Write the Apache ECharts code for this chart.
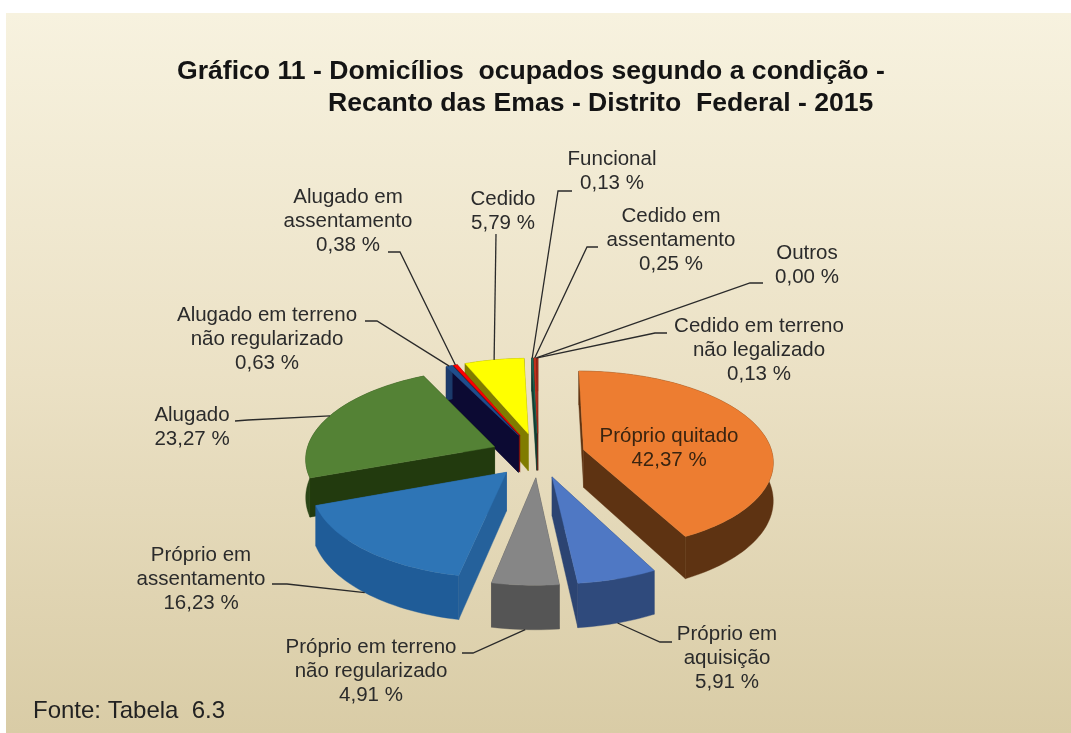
<!DOCTYPE html>
<html>
<head>
<meta charset="utf-8">
<style>
  html, body { margin: 0; padding: 0; background: #fff; }
  #chart { width: 1071px; height: 733px; }
</style>
</head>
<body>
<div id="chart"></div>
<script src="https://cdn.jsdelivr.net/npm/echarts@6/dist/echarts.min.js"></script>
<script>
  // dados do grafico, no sentido horario a partir do topo
  const categories = [
    'Próprio quitado', 'Próprio em\naquisição', 'Próprio em terreno\nnão regularizado',
    'Próprio em\nassentamento', 'Alugado', 'Alugado em terreno\nnão regularizado',
    'Alugado em\nassentamento', 'Cedido', 'Funcional', 'Cedido em\nassentamento',
    'Outros', 'Cedido em terreno\nnão legalizado'
  ]
  const percent = [42.37, 5.91, 4.91, 16.23, 23.27, 0.63, 0.38, 5.79, 0.13, 0.25, 0.00, 0.13]

  const titleLines = ['Gráfico 11 - Domicílios  ocupados segundo a condição -', 'Recanto das Emas - Distrito  Federal - 2015']
  const sourceText = 'Fonte: Tabela  6.3'

  const topColors = ['#ED7D31', '#4F78C4', '#868686', '#2E75B6', '#548235', '#1F4E8C', '#FF0000', '#FFFF00', '#1F6B57', '#C0301C', '#888888', '#A52A1A']
  const wallColors = ['#5E3312', '#2C4472', '#4F4F4F', '#25619B', '#223A0E', '#0C0A33', '#7A1010', '#807C00', '#123F33', '#6E1A10', '#555555', '#5E1A10']
  const rimColors = ['#5E3312', '#2F4A7C', '#555555', '#1F5C98', '#2A4516', '#1B3A6B', '#7A1010', '#807C00', '#123F33', '#6E1A10', '#555555', '#5E1A10']

  // centro do texto de cada rotulo
  const labelAt = [
    [669, 448], [727, 658], [371, 671], [201, 579], [192, 427], [267, 339],
    [348, 221], [503, 211], [612, 171], [671, 240], [807, 265], [759, 350]
  ]
  // inicio da linha guia e o cotovelo
  const leaderFrom = [
    null, [[672, 642], [660, 642]], [[462, 653], [473, 653]], [[272, 584], [287, 584]],
    [[235, 421], [248, 420]], [[365, 321], [377, 321]], [[388, 252], [400, 252]],
    [[496, 234]], [[572, 191], [558, 191]], [[598, 247], [587, 247]],
    [[763, 283], [750, 283]], [[667, 333], [655, 333]]
  ]

  // modelo da pizza 3D explodida
  const cx = 538, cy = 455, rx = 189, ry = 89
  const persp = 0.117, depth = 38, explode = 0.25

  const total = percent.reduce((a, b) => a + b, 0)
  function project(u, v, down) {
    const s = 1 / (1 - persp * v)
    return [cx + rx * u * s, cy + (ry * v + (down ? depth : 0)) * s]
  }
  function onDisc(theta, r, mid) {
    return [explode * Math.sin(mid) + r * Math.sin(theta), -explode * Math.cos(mid) - r * Math.cos(theta)]
  }

  let acc = 0
  const angles = percent.map(p => {
    const a0 = acc / total * Math.PI * 2
    acc += p
    const a1 = acc / total * Math.PI * 2
    return { a0, a1, mid: (a0 + a1) / 2 }
  })
  // ordem de pintura: do fundo para a frente
  const order = angles.map((a, i) => ({ i, v: -Math.cos(a.mid) })).sort((a, b) => a.v - b.v)
  const rank = []
  order.forEach((o, n) => { rank[o.i] = n })

  function arcPoints(a0, a1, mid, down) {
    const n = Math.max(1, Math.ceil((a1 - a0) / 0.03))
    const pts = []
    for (let k = 0; k <= n; k++) {
      const d = onDisc(a0 + (a1 - a0) * k / n, 1, mid)
      pts.push(project(d[0], d[1], down))
    }
    return pts
  }

  function renderSlice(params, api) {
    const i = params.dataIndex
    const { a0, a1, mid } = angles[i]
    if (api.value(0) <= 0) return { type: 'group', children: [] }
    const base = rank[i] * 10
    const ap = onDisc(0, 0, mid)
    const apexTop = project(ap[0], ap[1], false)
    const apexDown = project(ap[0], ap[1], true)
    const arcTop = arcPoints(a0, a1, mid, false)
    const arcDown = arcPoints(a0, a1, mid, true)
    const poly = (points, fill, z) => ({
      type: 'polygon', z2: base + z, silent: true,
      shape: { points: points },
      style: { fill: fill, stroke: fill, lineWidth: 0.4 }
    })
    return {
      type: 'group',
      children: [
        poly([apexTop, arcTop[arcTop.length - 1], arcDown[arcDown.length - 1], apexDown], wallColors[i], 1),
        poly([apexTop, arcTop[0], arcDown[0], apexDown], wallColors[i], 1),
        poly(arcTop.concat(arcDown.slice().reverse()), rimColors[i], 2),
        poly([apexTop].concat(arcTop), topColors[i], 3)
      ]
    }
  }

  function renderLabel(params, api) {
    const i = params.dataIndex
    const { mid } = angles[i]
    const children = [{
      type: 'text', z2: 1001, silent: true,
      style: {
        x: labelAt[i][0], y: labelAt[i][1],
        text: categories[i] + '\n' + api.value(0).toFixed(2).replace('.', ',') + ' %',
        fill: i === 0 ? '#3A2410' : '#2B2B2B',
        font: '20.5px "Liberation Sans", Arial, sans-serif',
        lineHeight: 24, align: 'center', verticalAlign: 'middle'
      }
    }]
    if (leaderFrom[i]) {
      const d = onDisc(mid, 1, mid)
      // nas fatias da frente a linha chega na base da parede
      const end = project(d[0], d[1], d[1] > 0.5)
      children.push({
        type: 'polyline', z2: 1000, silent: true,
        shape: { points: leaderFrom[i].concat([end]) },
        style: { fill: 'none', stroke: '#2A2A2A', lineWidth: 1.3 }
      })
    }
    return { type: 'group', children: children }
  }

  const chart = echarts.init(document.getElementById('chart'))
  chart.setOption({
    backgroundColor: '#ffffff',
    animation: false,
    title: [
      { text: titleLines[0], left: 172, top: 53, textStyle: { fontFamily: 'Liberation Sans', fontSize: 26.6, fontWeight: 'bold', color: '#141414' } },
      { text: titleLines[1], left: 323, top: 85, textStyle: { fontFamily: 'Liberation Sans', fontSize: 26.6, fontWeight: 'bold', color: '#141414' } },
      { text: sourceText, left: 28, top: 694, textStyle: { fontFamily: 'Liberation Sans', fontSize: 24, fontWeight: 'normal', color: '#222222' } }
    ],
    graphic: [{
      type: 'rect', z: -10, silent: true,
      shape: { x: 6, y: 13, width: 1065, height: 720 },
      style: {
        fill: {
          type: 'linear', x: 0, y: 0, x2: 0, y2: 1,
          colorStops: [
            { offset: 0, color: '#F7F2DF' },
            { offset: 0.5, color: '#EBE1C5' },
            { offset: 1, color: '#D9CCA6' }
          ]
        }
      }
    }],
    series: [
      { type: 'custom', coordinateSystem: 'none', data: percent, renderItem: renderSlice, z: 2 },
      { type: 'custom', coordinateSystem: 'none', data: percent, renderItem: renderLabel, z: 3 }
    ]
  })
</script>
</body>
</html>
